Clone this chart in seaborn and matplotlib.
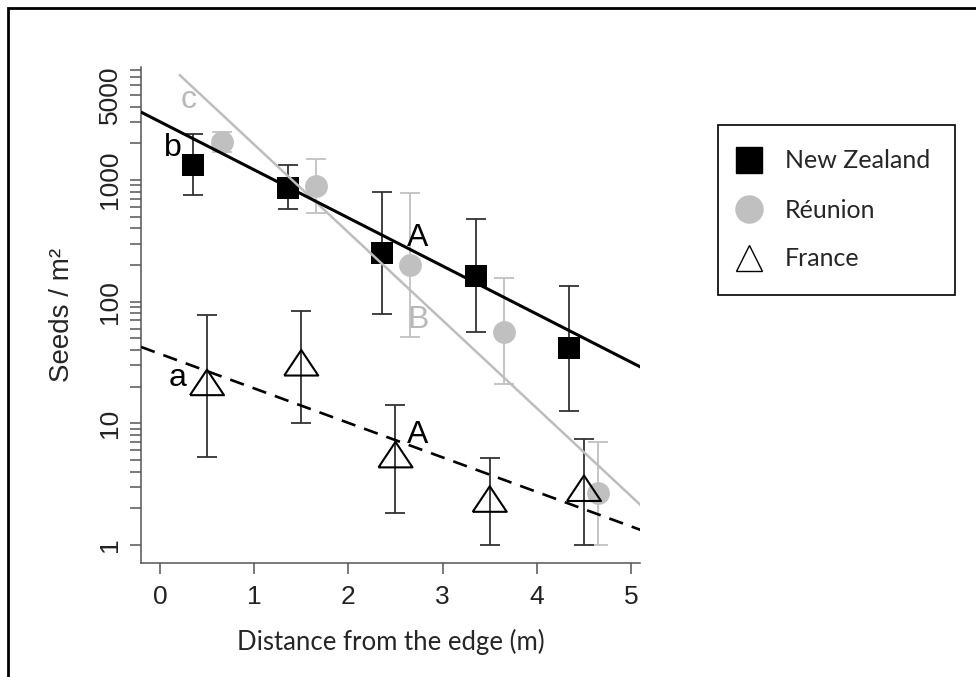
import numpy as np
import pandas as pd
import matplotlib
matplotlib.use("Agg")
import matplotlib.pyplot as plt
import seaborn as sns
from matplotlib.lines import Line2D
from matplotlib.patches import Rectangle
from matplotlib.ticker import FixedLocator, NullFormatter

# data (seeds / m2 on a log scale)
nz_x = [0.35, 1.36, 2.36, 3.35, 4.34]
nz_y = [1325, 858, 251, 162, 41.6]
nz_hi = [2385, 1325, 795, 477, 134]
nz_lo = [751, 577, 79, 56, 12.6]

re_x = [0.66, 1.66, 2.65, 3.65, 4.65]
re_y = [2050, 891, 200, 56, 2.67]
re_hi = [2475, 1485, 780, 156, 7.0]
re_lo = [1700, 535, 51, 21, 1.0]

fr_x = [0.5, 1.5, 2.5, 3.5, 4.5]
fr_y = [20, 29, 5.1, 2.2, 2.7]
fr_hi = [78, 84, 14.1, 5.2, 7.4]
fr_lo = [5.3, 10, 1.83, 1.0, 1.0]

# fitted regression lines (end points)
nz_fit_x = [-0.2, 5.1]
nz_fit_y = [3610, 29]
re_fit_x = [0.21, 5.1]
re_fit_y = [7280, 2.13]
fr_fit_x = [-0.2, 5.1]
fr_fit_y = [42.4, 1.33]

# letters of the post-hoc tests
letters = ["c", "b", "a", "A", "B", "A"]
letter_x = [0.30, 0.14, 0.19, 2.74, 2.74, 2.74]
letter_y = [4540, 1830, 23.6, 333, 71, 8.0]
letter_col = ["#b8b8b8", "black", "black", "black", "#b8b8b8", "black"]

legend_labels = ["New Zealand", "Réunion", "France"]

GREY = "#c0c0c0"
DARK = "#333333"

sns.set_style("ticks")
plt.rcParams["font.family"] = ["Liberation Sans", "DejaVu Sans"]

fig = plt.figure(figsize=(9.76, 6.77), dpi=100)
ax = fig.add_axes([0.1445, 0.1684, 0.5113, 0.7326])

def err(y, lo, hi):
    y = np.array(y); return [y - np.array(lo), np.array(hi) - y]

ax.errorbar(nz_x, nz_y, yerr=err(nz_y, nz_lo, nz_hi), fmt="none", ecolor=DARK,
            elinewidth=1.3, capsize=7, capthick=1.3, zorder=2)
ax.errorbar(re_x, re_y, yerr=err(re_y, re_lo, re_hi), fmt="none", ecolor=GREY,
            elinewidth=1.3, capsize=7, capthick=1.3, zorder=2)
ax.errorbar(fr_x, fr_y, yerr=err(fr_y, fr_lo, fr_hi), fmt="none", ecolor=DARK,
            elinewidth=1.3, capsize=7, capthick=1.3, zorder=2)

tri = [(-1, -0.5), (1, -0.5), (0, 1), (-1, -0.5)]
sns.scatterplot(x=re_x, y=re_y, marker="o", s=270, color=GREY, edgecolor=GREY,
                linewidth=0, ax=ax, zorder=3)
sns.scatterplot(x=nz_x, y=nz_y, marker="s", s=270, color="black", edgecolor="black",
                linewidth=0, ax=ax, zorder=3)
sns.scatterplot(x=fr_x, y=fr_y, marker=tri, s=600, facecolor="none", edgecolor="black",
                linewidth=1.5, ax=ax, zorder=3)

sns.lineplot(x=re_fit_x, y=re_fit_y, color="#bdbdbd", lw=1.8, ax=ax, zorder=4)
sns.lineplot(x=nz_fit_x, y=nz_fit_y, color="black", lw=2.2, ax=ax, zorder=4)
sns.lineplot(x=fr_fit_x, y=fr_fit_y, color="black", lw=1.9, ax=ax, zorder=4)
ax.lines[-1].set_dashes((5.5, 3.5))

for t, x, y, c in zip(letters, letter_x, letter_y, letter_col):
    ax.text(x, y, t, color=c, fontsize=23, ha="center", va="center", zorder=5)

ax.set_yscale("log")
ax.set_xlim(-0.2, 5.095)
ax.set_ylim(0.711, 8470)
ax.set_xticks([0, 1, 2, 3, 4, 5])
ax.set_yticks([1, 10, 100, 1000, 5000])
ax.set_yticklabels(["1", "10", "100", "1000", "5000"], rotation=90, va="center")
minor = [m * 10 ** d for d in range(0, 4) for m in range(2, 10) if m * 10 ** d < 8470]
ax.yaxis.set_minor_locator(FixedLocator(minor))
ax.yaxis.set_minor_formatter(NullFormatter())
ax.tick_params(axis="both", which="both", length=8, width=1.1, color="#555555",
               labelsize=19, labelcolor="#222222")
ax.tick_params(axis="x", pad=8)
ax.tick_params(axis="y", pad=6)
for s in ["top", "right"]:
    ax.spines[s].set_visible(False)
for s in ["left", "bottom"]:
    ax.spines[s].set_color("#555555")
    ax.spines[s].set_linewidth(1.1)

ax.set_ylabel("Seeds / m²", fontsize=20, labelpad=16)
ax.set_xlabel("Distance from the edge (m)", fontsize=18.5, family=["Lato", "DejaVu Sans"], labelpad=14)

handles = [
    Line2D([], [], ls="none", marker="s", ms=19, color="black"),
    Line2D([], [], ls="none", marker="o", ms=19.5, color=GREY),
    Line2D([], [], ls="none", marker="^", ms=19, mfc="none", mec="black", mew=1.0),
]
leg = ax.legend(handles, legend_labels, loc="upper left",
                bbox_to_anchor=(718 / 976, 1 - 125 / 677), bbox_transform=fig.transFigure,
                frameon=True, fancybox=False, edgecolor="black", framealpha=1,
                prop={"family": ["Lato", "DejaVu Sans"], "size": 18},
                borderpad=0.98, labelspacing=1.04, handletextpad=1.2, handlelength=0.5,
                borderaxespad=0)
leg.get_frame().set_linewidth(1.2)

fig.add_artist(Rectangle((8 / 976, -0.2), 1.2, 1.2 - 8 / 677, transform=fig.transFigure,
                         fill=False, edgecolor="black", lw=2, clip_on=False))

fig.savefig("out.png", dpi=100)
